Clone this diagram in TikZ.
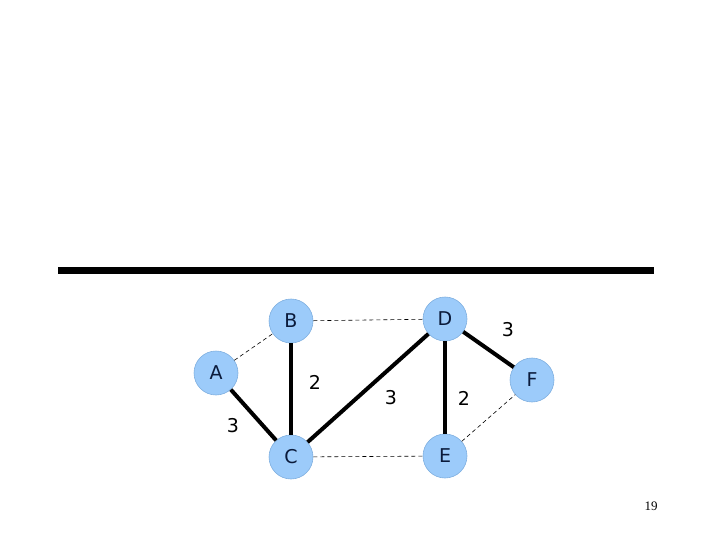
\documentclass[tikz,border=0pt]{standalone}
\usepackage{fontspec}
\setmainfont{DejaVu Sans}
\newfontfamily\serifnum{Liberation Serif}
\definecolor{nodefill}{HTML}{9CCBFA}
\definecolor{nodeedge}{HTML}{7FAFE0}
\definecolor{nodetext}{HTML}{0A1A3A}
\begin{document}
\begin{tikzpicture}[x=1pt,y=-1pt,
  vert/.style={circle,fill=nodefill,draw=nodeedge,line width=0.6pt,minimum size=44pt,inner sep=0pt,font=\fontsize{19}{19}\selectfont,text=nodetext},
  tree/.style={line width=4pt,black},
  nontree/.style={line width=0.6pt,black,dash pattern=on 4pt off 3pt},
  wlabel/.style={font=\fontsize{19}{19}\selectfont,text=black}]
\useasboundingbox (0,0) rectangle (720,540);
\draw[line width=7pt] (58,270) coordinate (l1) -- (654,270) coordinate (l2);
\node[vert] (A) at (216,373) {A};
\node[vert] (B) at (291,321) {B};
\node[vert] (C) at (291,457) {C};
\node[vert] (D) at (445,319) {D};
\node[vert] (E) at (445,456) {E};
\node[vert] (F) at (532,380) {F};
\draw[nontree] (A) -- (B);
\draw[nontree] (B) -- (D);
\draw[nontree] (C) -- (E);
\draw[nontree] (E) -- (F);
\draw[tree] (A) -- (C);
\draw[tree] (B) -- (C);
\draw[tree] (C) -- (D);
\draw[tree] (D) -- (E);
\draw[tree] (D) -- (F);
\node[wlabel] (w1) at (315,382) {2};
\node[wlabel] (w2) at (391,398) {3};
\node[wlabel] (w3) at (464,398) {2};
\node[wlabel] (w4) at (508,330) {3};
\node[wlabel] (w5) at (233,426) {3};
\node[font=\serifnum\fontsize{13}{13}\selectfont] (pg) at (651,506) {19};
\end{tikzpicture}
\end{document}
